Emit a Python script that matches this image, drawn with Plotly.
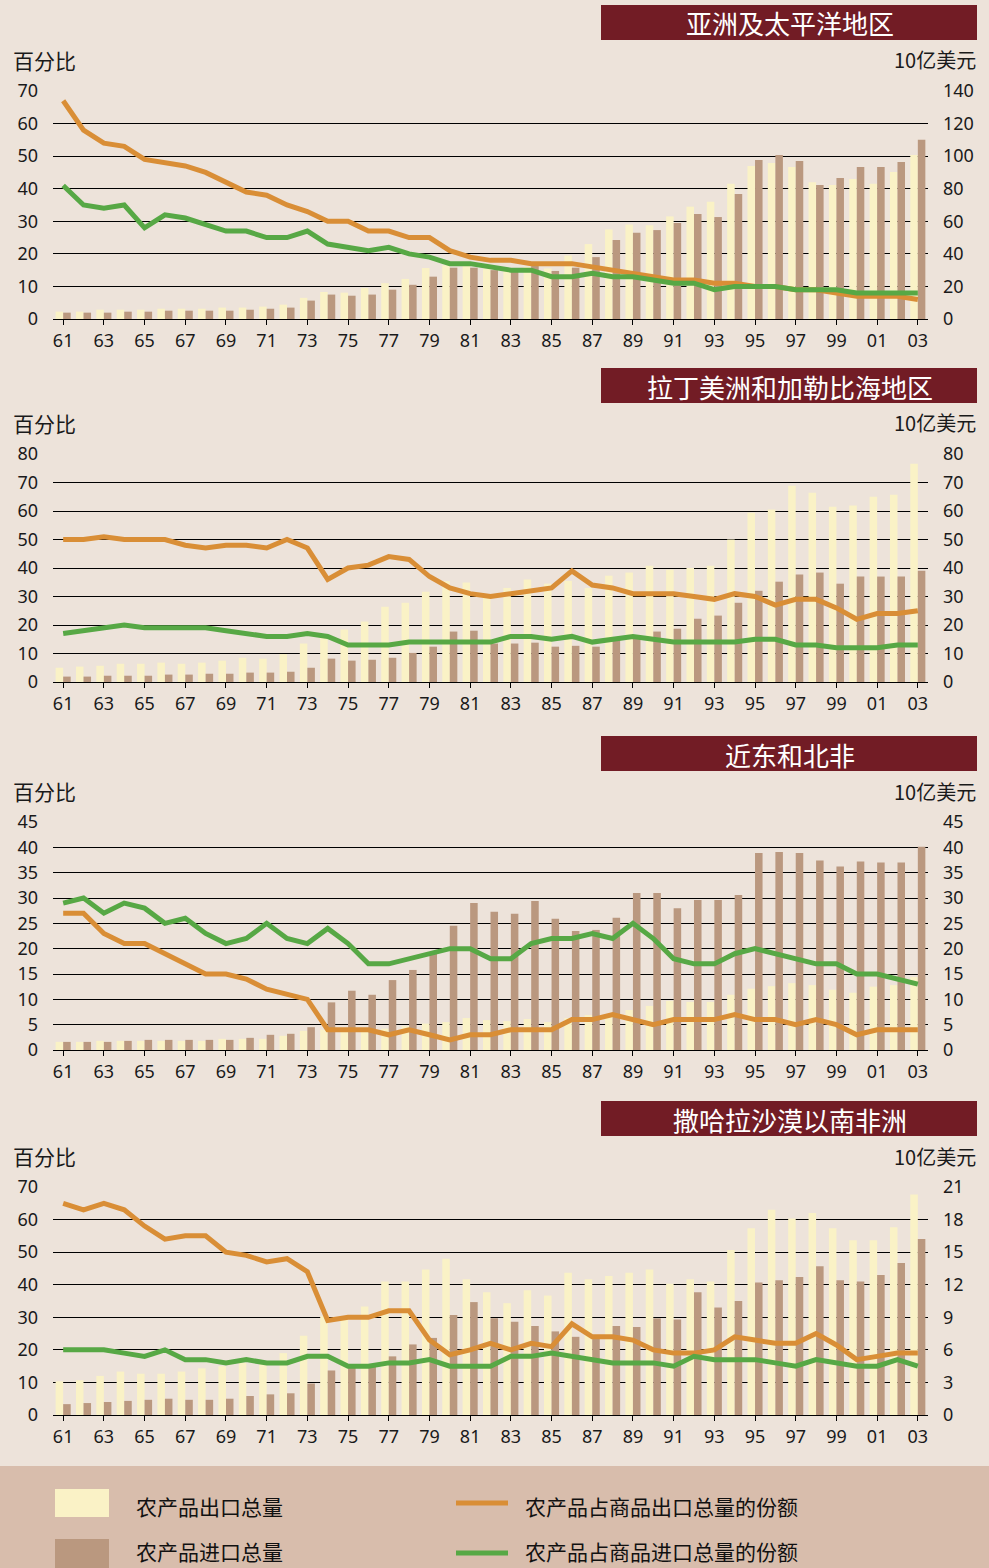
import plotly.graph_objects as go

W, H = 989, 1568

years = list(range(1961, 2004))
tick_years = list(range(1961, 2004, 2))
tick_text = [f"{y % 100:02d}" for y in tick_years]

# ---- Panel 1: Asia & Pacific ----
ap_export_share = [67,58,54,53,49,48,47,45,42,39, 38,35,33,30,30,27,27,25,25,21, 19,18,
                   18,17,17,17,16,15,14,13,12,12, 11,11,10,10,9,9,8,7,7,7, 6]
ap_import_share = [41,35,34,35,28,32,31,29,27,27, 25,25,27,23,22,21,22,20,19,17, 17,16,
                   15,15,13,13,14,13,13,12,11,11, 9,10,10,10,9,9,9,8,8,8, 8]
ap_exports = [4.5,4.5,5.7,5.7,5.7,6.3,6.3,6.3,7,7, 7.6,8.8,13,16.6,16.2,19,22,24.6,31.3,33, 33,31,
              30,32,31,39,46,55,58,57.5,63,69, 72,83,94,95.8,93.3,84,82.3,86,83,90.3, 100.7]
ap_imports = [3.9,3.9,3.9,4.5,4.5,5.1,5.1,5.1,5.1,5.7, 6.3,7,11.3,15,14.3,15,18,21,26,31.5, 31.5,30,
              29,33,29.5,31.5,38,48.5,53,54.6,59,64.5, 62.6,76.7,97.6,100.7,97,82.3,86.6,93.3,93.3,96.4, 110]

# ---- Panel 2: Latin America & Caribbean ----
la_export_share = [50,50,51,50,50,50,48,47,48,48, 47,50,47,36,40,41,44,43,37,33, 31,30,
                   31,32,33,39,34,33,31,31,31,30, 29,31,30,27,29,29,26,22,24,24, 25]
la_import_share = [17,18,19,20,19,19,19,19,18,17, 16,16,17,16,13,13,13,14,14,14, 14,14,
                   16,16,15,16,14,15,16,15,14,14, 14,14,15,15,13,13,12,12,12,13, 13]
la_exports = [5,5.4,5.7,6.4,6.4,6.8,6.4,6.8,7.5,8.5, 8.2,9.8,13.5,16,18.4,21.2,26.4,27.8,31.7,35.4, 34.9,30,
              33,36,34.5,35.5,33,37.3,38.4,40.8,39.4,40, 40.8,50,59.4,60.5,68.9,66.4,61.5,61.9,65,65.7, 76.6]
la_imports = [1.9,1.9,2.2,2.2,2.2,2.6,2.6,2.9,2.9,3.3, 3.3,3.6,5,8.2,7.5,7.8,8.5,10.2,12.4,17.7, 18,13.5,
              13.5,13.8,12.4,12.7,12.4,15,16,17.7,18.7,22.2, 23.3,27.8,32,35.2,37.7,38.4,34.5,37,37,37, 39]

# ---- Panel 3: Near East & North Africa ----
ne_export_share = [27,27,23,21,21,19,17,15,15,14, 12,11,10,4,4,4,3,4,3,2, 3,3,
                   4,4,4,6,6,7,6,5,6,6, 6,7,6,6,5,6,5,3,4,4, 4]
ne_import_share = [29,30,27,29,28,25,26,23,21,22, 25,22,21,24,21,17,17,18,19,20, 20,18,
                   18,21,22,22,23,22,25,22,18,17, 17,19,20,19,18,17,17,15,15,14, 13]
ne_exports = [1.6,1.6,1.8,1.8,1.8,1.8,1.8,1.8,2.2,2.2, 2.2,2.8,3.8,4,3.6,3.6,4.2,4.7,5.2,5.5, 6.3,5.9,
              5.7,6.1,5.5,6.3,6.9,6.6,7.9,8.7,9.7,9.5, 9.5,10.9,12.1,12.6,13.2,12.8,11.9,11.3,12.5,12.8, 14.4]
ne_imports = [1.6,1.6,1.6,1.8,2,2,2,2,2,2.4, 3,3.2,4.5,9.4,11.7,10.9,13.8,15.8,19,24.5, 29,27.3,
              26.9,29.4,25.9,23.5,23.7,26.1,31,31,28,29.6, 29.6,30.6,38.9,39.1,38.9,37.4,36.2,37.2,37,37, 40.1]

# ---- Panel 4: Sub-Saharan Africa ----
ss_export_share = [65,63,65,63,58,54,55,55,50,49, 47,48,44,29,30,30,32,32,23,18.5, 20,22,
                   20,22,21,28,24,24,23,20,19,19, 20,24,23,22,22,25,21.5,17,18,19, 19]
ss_import_share = [20,20,20,19,18,20,17,17,16,17, 16,16,18,18,15,15,16,16,17,15, 15,15,
                   18,18,19,18,17,16,16,16,15,18, 17,17,17,16,15,17,16,15,15,17, 15]
ss_exports = [3.1,3.2,3.6,4.0,3.8,3.8,4.0,4.3,4.5,4.8, 4.7,5.7,7.3,9.1,8.9,10,12.3,12.3,13.4,14.4, 12.5,11.3,
              10.3,11.5,11,13.1,12.5,12.8,13.1,13.4,12.1,12.5, 12.3,15.2,17.2,18.9,18.1,18.6,17.2,16.1,16.1,17.3, 20.3]
ss_imports = [1.0,1.1,1.2,1.3,1.4,1.5,1.4,1.4,1.5,1.75, 1.9,2.0,2.9,4.1,4.6,4.6,5.4,6.5,7.1,9.2, 10.4,8.9,
              8.6,8.2,7.7,7.2,7.1,8.2,8.1,8.9,8.8,11.3, 9.9,10.5,12.2,12.4,12.7,13.7,12.4,12.3,12.9,14, 16.2]

titles = ["亚洲及太平洋地区", "拉丁美洲和加勒比海地区", "近东和北非", "撒哈拉沙漠以南非洲"]
left_ranges = [(70, 10), (80, 10), (45, 5), (70, 10)]
right_ranges = [(140, 20), (80, 10), (45, 5), (21, 3)]
panels = [
    (ap_exports, ap_imports, ap_export_share, ap_import_share),
    (la_exports, la_imports, la_export_share, la_import_share),
    (ne_exports, ne_imports, ne_export_share, ne_import_share),
    (ss_exports, ss_imports, ss_export_share, ss_import_share),
]
legend_labels = ["农产品出口总量", "农产品进口总量", "农产品占商品出口总量的份额", "农产品占商品进口总量的份额"]

# ---- styles ----
BG = "#EDE3DA"
LEG_BG = "#D8BDAC"
C_EXP = "#FAF2C6"
C_IMP = "#BA987F"
C_ORANGE = "#D98E36"
C_GREEN = "#57A845"
C_TITLE = "#721C25"
NUM_FONT = "Noto Sans, Open Sans, sans-serif"
CJK_FONT = "Noto Sans CJK SC, sans-serif"

grid_px = [(91, 319), (454, 682), (822, 1050), (1187, 1415)]
X0, X1 = 53, 928


def py(p):
    return 1 - p / H


def px(p):
    return p / W


fig = go.Figure()
layout = dict(
    width=W, height=H, autosize=False, margin=dict(l=0, r=0, t=0, b=0, pad=0, autoexpand=False),
    paper_bgcolor=BG, plot_bgcolor=BG, showlegend=False,
    barmode="group", bargap=0.26, bargroupgap=0,
)
shapes, annotations = [], []

for i, (exp, imp, es, is_) in enumerate(panels):
    n = i + 1
    xa = "x" if n == 1 else f"x{n}"
    yb_id = 2 * i + 1   # base axis: right (bars)
    yo_id = 2 * i + 2   # overlay axis: left (lines)
    yb = "y" if yb_id == 1 else f"y{yb_id}"
    yo = f"y{yo_id}"
    top, bot = grid_px[i]
    dom_y = [py(bot), py(top)]

    fig.add_trace(go.Bar(x=years, y=exp, marker_color=C_EXP, marker_line_width=0,
                         xaxis=xa, yaxis=yb, offsetgroup="exp", name=legend_labels[0]))
    fig.add_trace(go.Bar(x=years, y=imp, marker_color=C_IMP, marker_line_width=0,
                         xaxis=xa, yaxis=yb, offsetgroup="imp", name=legend_labels[1]))
    fig.add_trace(go.Scatter(x=years, y=es, mode="lines", line=dict(color=C_ORANGE, width=5),
                             xaxis=xa, yaxis=yo, name=legend_labels[2]))
    fig.add_trace(go.Scatter(x=years, y=is_, mode="lines", line=dict(color=C_GREEN, width=5),
                             xaxis=xa, yaxis=yo, name=legend_labels[3]))

    xkey = "xaxis" if n == 1 else f"xaxis{n}"
    layout[xkey] = dict(
        domain=[px(X0), px(X1)], range=[1960.5, 2003.5], anchor=yb,
        tickvals=tick_years, ticktext=tick_text, ticks="outside", ticklen=5,
        tickcolor="#000", tickwidth=1, showline=True, linecolor="#000", linewidth=1,
        showgrid=False, zeroline=False, ticklabelstandoff=0, automargin=False,
        tickfont=dict(family=NUM_FONT, size=18, color="#1a1a1a"),
    )
    rmax, rstep = right_ranges[i]
    lmax, lstep = left_ranges[i]
    ybkey = "yaxis" if yb_id == 1 else f"yaxis{yb_id}"
    layout[ybkey] = dict(
        domain=dom_y, range=[0, rmax], dtick=rstep, tick0=0, side="right", anchor=xa,
        showgrid=True, gridcolor="#000", gridwidth=1, zeroline=False, showline=False,
        ticks="", ticklabelstandoff=14, automargin=False,
        tickfont=dict(family=NUM_FONT, size=18, color="#1a1a1a"),
    )
    layout[f"yaxis{yo_id}"] = dict(
        domain=dom_y, range=[0, lmax], dtick=lstep, tick0=0, side="left", anchor=xa,
        overlaying=yb, showgrid=False, zeroline=False, showline=False,
        ticks="", ticklabelstandoff=14, automargin=False,
        tickfont=dict(family=NUM_FONT, size=18, color="#1a1a1a"),
    )

    # title box
    tb_top = top - 86
    shapes.append(dict(type="rect", xref="paper", yref="paper",
                       x0=px(601), x1=px(977), y0=py(tb_top + 35), y1=py(tb_top),
                       fillcolor=C_TITLE, line=dict(width=0), layer="below"))
    annotations.append(dict(text=titles[i], xref="paper", yref="paper",
                            x=px(790), y=py(tb_top + 18), xanchor="center", yanchor="middle",
                            showarrow=False, font=dict(family=CJK_FONT, size=26, color="#ffffff")))
    annotations.append(dict(text="百分比", xref="paper", yref="paper",
                            x=px(11), y=py(top - 31), xanchor="left", yanchor="middle",
                            showarrow=False, font=dict(family=CJK_FONT, size=21, color="#1a1a1a")))
    annotations.append(dict(text="10亿美元", xref="paper", yref="paper",
                            x=px(978), y=py(top - 31), xanchor="right", yanchor="middle",
                            showarrow=False, font=dict(family=CJK_FONT, size=20, color="#1a1a1a")))

# legend band
shapes.append(dict(type="rect", xref="paper", yref="paper", x0=0, x1=1, y0=0, y1=py(1466),
                   fillcolor=LEG_BG, line=dict(width=0), layer="below"))
shapes.append(dict(type="rect", xref="paper", yref="paper", x0=px(55), x1=px(109),
                   y0=py(1568), y1=py(1539), fillcolor=C_IMP, line=dict(width=0)))
shapes.append(dict(type="rect", xref="paper", yref="paper", x0=px(55), x1=px(109),
                   y0=py(1517), y1=py(1489), fillcolor=C_EXP, line=dict(width=0)))
shapes.append(dict(type="line", xref="paper", yref="paper", x0=px(456), x1=px(508),
                   y0=py(1503), y1=py(1503), line=dict(color=C_ORANGE, width=5)))
shapes.append(dict(type="line", xref="paper", yref="paper", x0=px(456), x1=px(508),
                   y0=py(1553), y1=py(1553), line=dict(color=C_GREEN, width=5)))
for txt, xx, yy in [(legend_labels[0], 134, 1506), (legend_labels[1], 134, 1551),
                    (legend_labels[2], 523, 1506), (legend_labels[3], 523, 1551)]:
    annotations.append(dict(text=txt, xref="paper", yref="paper", x=px(xx), y=py(yy),
                            xanchor="left", yanchor="middle",
                            showarrow=False,
                            font=dict(family=CJK_FONT, size=21, color="#111111")))

layout["shapes"] = shapes
layout["annotations"] = annotations
fig.update_layout(**layout)
fig.write_html(
    "out.html",
    config={"displayModeBar": False},
    post_script="document.body.style.margin='0';document.body.style.padding='0';"
                "document.documentElement.style.overflow='hidden';",
)
